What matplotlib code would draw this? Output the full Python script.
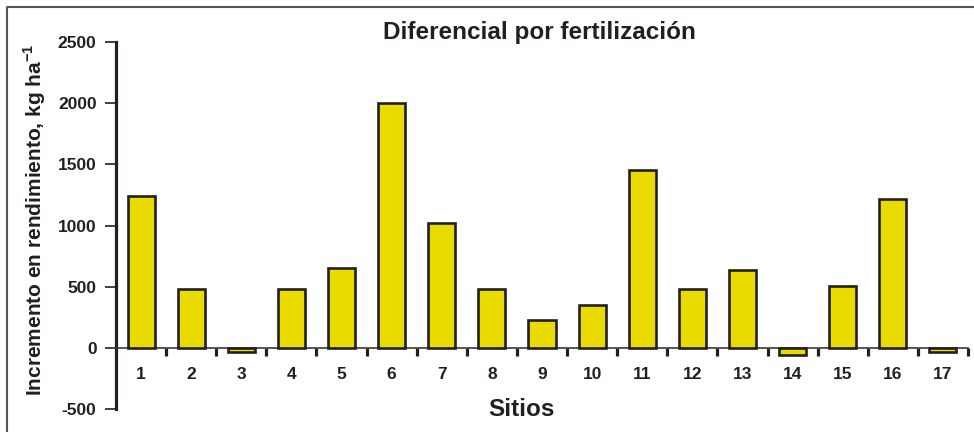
import numpy as np
import matplotlib
matplotlib.use("Agg")
import matplotlib.pyplot as plt
from matplotlib.lines import Line2D

plt.rcParams['font.family'] = ['Liberation Sans', 'DejaVu Sans']
plt.rcParams['font.weight'] = 'bold'
plt.rcParams['mathtext.fontset'] = 'custom'
plt.rcParams['mathtext.rm'] = 'Liberation Sans:bold'
plt.rcParams['mathtext.bf'] = 'Liberation Sans:bold'

################ DATOS
sitios = [str(i) for i in range(1, 18)]
incremento = [1240, 485, -35, 485, 650, 2000, 1020, 485, 230, 350,
              1455, 485, 640, -60, 505, 1220, -30]
yticks = [-500, 0, 500, 1000, 1500, 2000, 2500]

titulo = "Diferencial por fertilización"
xlabel = "Sitios"
ylabel = r"Incremento en rendimiento, kg ha$^{\mathbf{-1}}$"

amarillo = "#E9DA00"
oscuro = "#231F20"

################ FIGURA
fig = plt.figure(figsize=(9.74, 4.32), dpi=100)
ax = fig.add_axes([116/974, 23/432, (968-116)/974, (409-42)/432])

x = np.arange(len(sitios))
ax.bar(x, incremento, width=0.54, color=amarillo, edgecolor=oscuro,
       linewidth=1.9, zorder=3)

ax.set_xlim(-0.5, len(sitios) - 0.5)
ax.set_ylim(-500, 2500)

# ejes
ax.spines['top'].set_visible(False)
ax.spines['right'].set_visible(False)
ax.spines['left'].set_linewidth(2.3)
ax.spines['left'].set_color(oscuro)
ax.spines['bottom'].set_position(('data', 0))
ax.spines['bottom'].set_linewidth(1.2)
ax.spines['bottom'].set_color("#3a3a3a")

ax.set_yticks(yticks)
ax.set_yticklabels([str(v) for v in yticks])
ax.tick_params(axis='y', length=8, width=1.2, color=oscuro, pad=6,
               labelsize=12.5, labelcolor=oscuro)

ax.set_xticks(x)
ax.set_xticklabels(sitios)
ax.set_xticks(np.arange(0.5, len(sitios), 1.0), minor=True)
ax.tick_params(axis='x', which='major', length=0, pad=13.5,
               labelsize=12.5, labelcolor=oscuro)
ax.tick_params(axis='x', which='minor', length=6, width=2.3,
               color=oscuro, direction='out')

# textos
fig.text(539/974, 1 - 32/432, titulo, ha='center', va='center',
         fontsize=17.5, fontweight='bold', color=oscuro)
fig.text(521/974, 1 - 409/432, xlabel, ha='center', va='center',
         fontsize=17.5, fontweight='bold', color=oscuro)
fig.text(35/974, 1 - 220/432, ylabel, ha='center', va='center',
         rotation=90, fontsize=15, fontweight='bold', color=oscuro)

# marco
fig.add_artist(Line2D([6.5/974, 6.5/974, 1], [0, 1 - 6.5/432, 1 - 6.5/432],
                      transform=fig.transFigure, color="#555555", lw=1.5))

fig.savefig("out.png", dpi=100)
